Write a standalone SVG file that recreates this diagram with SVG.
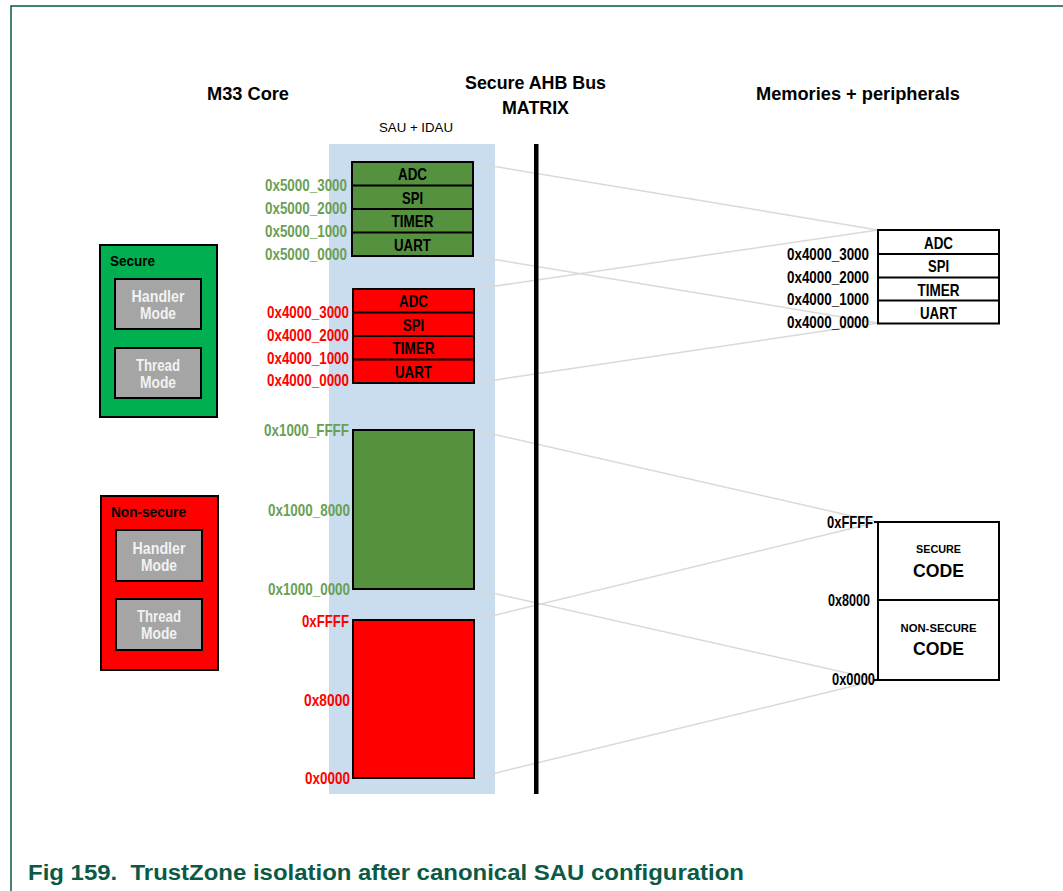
<svg xmlns="http://www.w3.org/2000/svg" width="1063" height="891" viewBox="0 0 1063 891">
<style>
text{font-family:"Liberation Sans",Arial,sans-serif;font-weight:bold}
.t{font-size:19px;fill:#000;text-anchor:middle}
.sm{font-size:13px;font-weight:normal;fill:#000;text-anchor:middle}
.lg{font-size:17px;fill:#6A9F55;text-anchor:end}
.lr{font-size:17px;fill:#FF0000;text-anchor:end}
.lk{font-size:17px;fill:#000;text-anchor:end}
.cell{font-size:17px;fill:#000;text-anchor:middle}
.zone{font-size:15px;fill:#000}
.mode{font-size:16px;fill:#F2F2F2;text-anchor:middle}
.box{stroke:#000;stroke-width:2}
.conn{stroke:#D9D9D9;stroke-width:1.5;fill:none}
.code1{font-size:11px;fill:#000;text-anchor:middle}
.code2{font-size:18px;fill:#000;text-anchor:middle}
</style>
<rect width="1063" height="891" fill="#fff"/>
<path d="M11 891V6H1063" fill="none" stroke="#0A5A46" stroke-width="1.5"/>

<g id="titles">
<text class="t" x="248" y="100" textLength="82" lengthAdjust="spacingAndGlyphs">M33 Core</text>
<text class="t" x="535.5" y="89" textLength="141" lengthAdjust="spacingAndGlyphs">Secure AHB Bus</text>
<text class="t" x="535.5" y="114" textLength="67" lengthAdjust="spacingAndGlyphs">MATRIX</text>
<text class="t" x="858" y="100" textLength="204" lengthAdjust="spacingAndGlyphs">Memories + peripherals</text>
</g>

<g id="sau-idau">
<rect x="329" y="144" width="166" height="650" fill="#C9DDEE"/>
<text class="sm" x="416" y="132" textLength="74" lengthAdjust="spacingAndGlyphs">SAU + IDAU</text>
</g>

<g id="connectors">
<line class="conn" x1="474" y1="163" x2="878" y2="230"/>
<line class="conn" x1="474" y1="256" x2="878" y2="323"/>
<line class="conn" x1="475" y1="289" x2="878" y2="230"/>
<line class="conn" x1="475" y1="383" x2="878" y2="323"/>
<line class="conn" x1="475" y1="430" x2="878" y2="522"/>
<line class="conn" x1="475" y1="589" x2="878" y2="680"/>
<line class="conn" x1="475" y1="620" x2="878" y2="522"/>
<line class="conn" x1="475" y1="778" x2="878" y2="680"/>
</g>

<g id="bus-matrix">
<rect x="534" y="144" width="4.5" height="650" fill="#000"/>
</g>

<g id="secure-zone">
<rect class="box" x="100" y="245" width="117" height="172" fill="#00B050"/>
<text class="zone" x="110" y="265.5" textLength="45" lengthAdjust="spacingAndGlyphs">Secure</text>
<rect class="box" x="115" y="279" width="86" height="50" fill="#A5A5A5"/>
<text class="mode" x="158" y="301.5" textLength="53" lengthAdjust="spacingAndGlyphs">Handler</text>
<text class="mode" x="158" y="318.5" textLength="36" lengthAdjust="spacingAndGlyphs">Mode</text>
<rect class="box" x="115" y="348" width="86" height="50" fill="#A5A5A5"/>
<text class="mode" x="158" y="370.5" textLength="44" lengthAdjust="spacingAndGlyphs">Thread</text>
<text class="mode" x="158" y="387.5" textLength="36" lengthAdjust="spacingAndGlyphs">Mode</text>
</g>

<g id="nonsecure-zone">
<rect class="box" x="101" y="496" width="117" height="174" fill="#FF0000"/>
<text class="zone" x="111" y="516.5" textLength="75" lengthAdjust="spacingAndGlyphs">Non-secure</text>
<rect class="box" x="116" y="530" width="86" height="51" fill="#A5A5A5"/>
<text class="mode" x="159" y="553.5" textLength="53" lengthAdjust="spacingAndGlyphs">Handler</text>
<text class="mode" x="159" y="570.5" textLength="36" lengthAdjust="spacingAndGlyphs">Mode</text>
<rect class="box" x="116" y="599" width="86" height="51" fill="#A5A5A5"/>
<text class="mode" x="159" y="621.5" textLength="44" lengthAdjust="spacingAndGlyphs">Thread</text>
<text class="mode" x="159" y="638.5" textLength="36" lengthAdjust="spacingAndGlyphs">Mode</text>
</g>

<g id="secure-periph">
<rect class="box" x="352" y="162" width="121" height="94" fill="#55913F"/>
<path class="box" d="M352 185.5H473M352 209H473M352 232.5H473" fill="none"/>
<text class="cell" x="412.5" y="180" textLength="29" lengthAdjust="spacingAndGlyphs">ADC</text>
<text class="cell" x="412.5" y="203.5" textLength="21" lengthAdjust="spacingAndGlyphs">SPI</text>
<text class="cell" x="412.5" y="227" textLength="42" lengthAdjust="spacingAndGlyphs">TIMER</text>
<text class="cell" x="412.5" y="250.5" textLength="37" lengthAdjust="spacingAndGlyphs">UART</text>
<text class="lg" x="347" y="191" textLength="82" lengthAdjust="spacingAndGlyphs">0x5000_3000</text>
<text class="lg" x="347" y="214" textLength="82" lengthAdjust="spacingAndGlyphs">0x5000_2000</text>
<text class="lg" x="347" y="237" textLength="82" lengthAdjust="spacingAndGlyphs">0x5000_1000</text>
<text class="lg" x="347" y="260" textLength="82" lengthAdjust="spacingAndGlyphs">0x5000_0000</text>
</g>

<g id="nonsecure-periph">
<rect class="box" x="353" y="289" width="121" height="94" fill="#FF0000"/>
<path class="box" d="M353 312.5H474M353 336H474M353 359.5H474" fill="none"/>
<text class="cell" x="413.5" y="307" textLength="29" lengthAdjust="spacingAndGlyphs">ADC</text>
<text class="cell" x="413.5" y="330.5" textLength="21" lengthAdjust="spacingAndGlyphs">SPI</text>
<text class="cell" x="413.5" y="354" textLength="42" lengthAdjust="spacingAndGlyphs">TIMER</text>
<text class="cell" x="413.5" y="377.5" textLength="37" lengthAdjust="spacingAndGlyphs">UART</text>
<text class="lr" x="349" y="318" textLength="82" lengthAdjust="spacingAndGlyphs">0x4000_3000</text>
<text class="lr" x="349" y="341" textLength="82" lengthAdjust="spacingAndGlyphs">0x4000_2000</text>
<text class="lr" x="349" y="364" textLength="82" lengthAdjust="spacingAndGlyphs">0x4000_1000</text>
<text class="lr" x="349" y="386" textLength="82" lengthAdjust="spacingAndGlyphs">0x4000_0000</text>
</g>

<g id="secure-code-alias">
<rect class="box" x="353" y="430" width="121" height="159" fill="#55913F"/>
<text class="lg" x="349" y="436" textLength="85" lengthAdjust="spacingAndGlyphs">0x1000_FFFF</text>
<text class="lg" x="350" y="516" textLength="82" lengthAdjust="spacingAndGlyphs">0x1000_8000</text>
<text class="lg" x="350" y="595" textLength="82" lengthAdjust="spacingAndGlyphs">0x1000_0000</text>
</g>

<g id="nonsecure-code-alias">
<rect class="box" x="353" y="620" width="121" height="158" fill="#FF0000"/>
<text class="lr" x="349" y="627" textLength="47" lengthAdjust="spacingAndGlyphs">0xFFFF</text>
<text class="lr" x="350" y="706" textLength="46" lengthAdjust="spacingAndGlyphs">0x8000</text>
<text class="lr" x="350" y="784" textLength="45" lengthAdjust="spacingAndGlyphs">0x0000</text>
</g>

<g id="peripherals">
<rect class="box" x="878" y="230" width="121" height="93.5" fill="#fff"/>
<path class="box" d="M878 254H999M878 277.5H999M878 300.5H999" fill="none"/>
<text class="cell" x="938.5" y="248.5" textLength="29" lengthAdjust="spacingAndGlyphs">ADC</text>
<text class="cell" x="938.5" y="272" textLength="21" lengthAdjust="spacingAndGlyphs">SPI</text>
<text class="cell" x="938.5" y="295.5" textLength="42" lengthAdjust="spacingAndGlyphs">TIMER</text>
<text class="cell" x="938.5" y="318.5" textLength="37" lengthAdjust="spacingAndGlyphs">UART</text>
<text class="lk" x="869" y="260" textLength="82" lengthAdjust="spacingAndGlyphs">0x4000_3000</text>
<text class="lk" x="869" y="283" textLength="82" lengthAdjust="spacingAndGlyphs">0x4000_2000</text>
<text class="lk" x="869" y="305" textLength="82" lengthAdjust="spacingAndGlyphs">0x4000_1000</text>
<text class="lk" x="869" y="328" textLength="82" lengthAdjust="spacingAndGlyphs">0x4000_0000</text>
</g>

<g id="code-memory">
<rect class="box" x="878" y="522" width="121" height="158" fill="#fff"/>
<path class="box" d="M878 600H999M874 522H878M874 680H878" fill="none"/>
<text class="code1" x="938.5" y="553" textLength="45" lengthAdjust="spacingAndGlyphs">SECURE</text>
<text class="code2" x="938.5" y="577" textLength="51" lengthAdjust="spacingAndGlyphs">CODE</text>
<text class="code1" x="938.5" y="632" textLength="76" lengthAdjust="spacingAndGlyphs">NON-SECURE</text>
<text class="code2" x="938.5" y="655" textLength="51" lengthAdjust="spacingAndGlyphs">CODE</text>
<text class="lk" x="873" y="528" textLength="46" lengthAdjust="spacingAndGlyphs">0xFFFF</text>
<text class="lk" x="870" y="606" textLength="42" lengthAdjust="spacingAndGlyphs">0x8000</text>
<text class="lk" x="875" y="685" textLength="43" lengthAdjust="spacingAndGlyphs">0x0000</text>
</g>

<g id="caption">
<text x="28" y="880" font-size="22" fill="#0A5A46" xml:space="preserve" textLength="716" lengthAdjust="spacingAndGlyphs">Fig 159.  TrustZone isolation after canonical SAU configuration</text>
</g>
</svg>
